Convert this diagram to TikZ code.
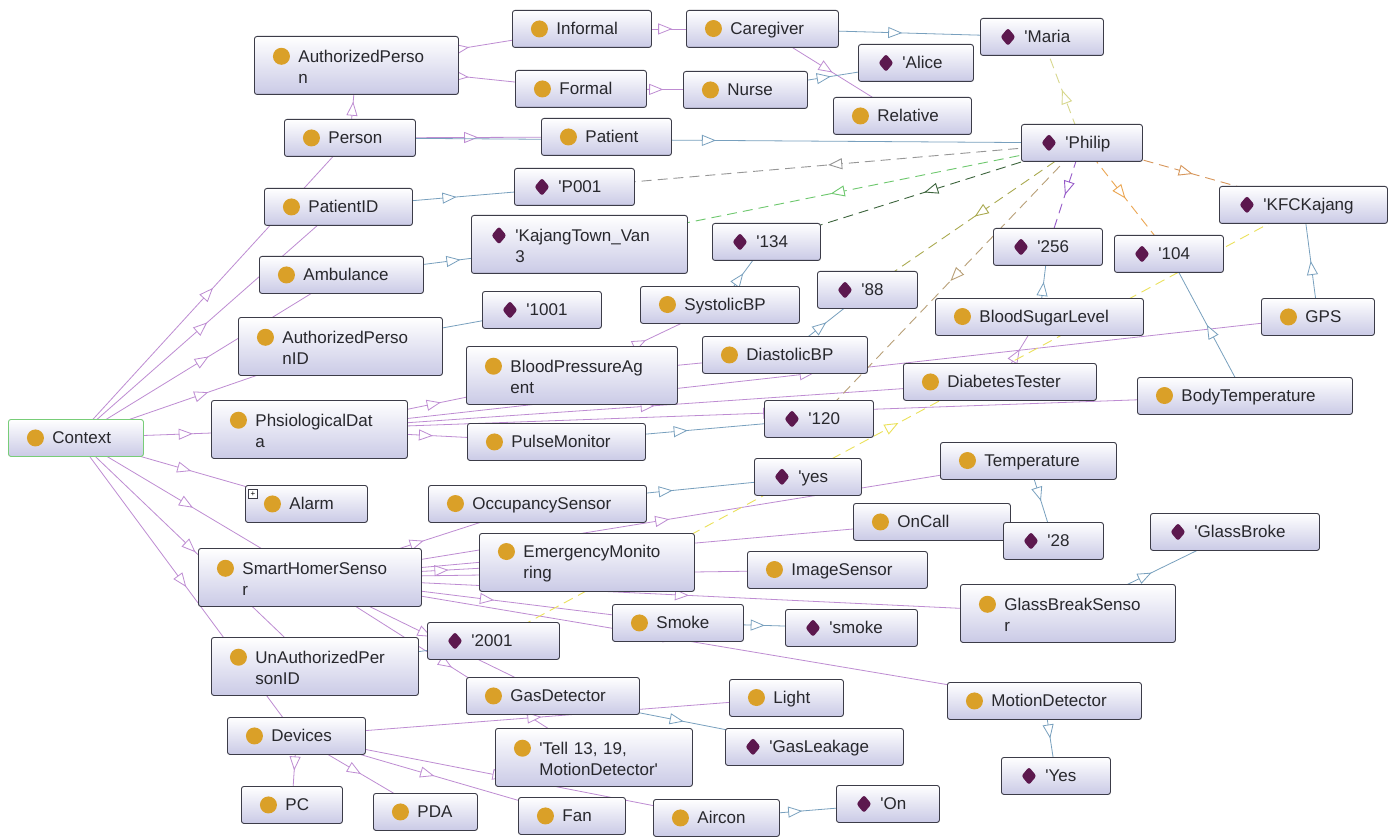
\documentclass[tikz,border=0pt]{standalone}
\usepackage{fontspec}
\setmainfont{Liberation Sans}
\usetikzlibrary{arrows.meta,decorations.markings}
\definecolor{boxline}{RGB}{60,60,72}
\definecolor{boxbot}{RGB}{202,202,230}
\definecolor{boxtext}{RGB}{40,40,45}
\definecolor{ctxline}{RGB}{120,205,120}
\definecolor{clsdot}{RGB}{218,160,40}
\definecolor{inddot}{RGB}{92,24,78}
\definecolor{subc}{RGB}{190,140,210}
\definecolor{indc}{RGB}{120,160,190}
\definecolor{relgrey}{RGB}{150,150,150}
\definecolor{relgreen}{RGB}{110,200,110}
\definecolor{reldkgreen}{RGB}{60,100,60}
\definecolor{relolive}{RGB}{170,170,80}
\definecolor{reltan}{RGB}{185,160,120}
\definecolor{relviolet}{RGB}{150,90,200}
\definecolor{relorange}{RGB}{235,165,80}
\definecolor{relbrown}{RGB}{215,150,90}
\definecolor{relpale}{RGB}{215,215,140}
\definecolor{relyellow}{RGB}{235,225,90}
\pgfdeclarelayer{bg}
\pgfsetlayers{bg,main}
\newcommand\apos{\textquotesingle}
\newcommand\kls{\hspace*{18.5pt}\tikz[baseline=-5.8pt]\fill[clsdot] (0,0) circle (8.5pt);\hspace{8.5pt}}
\newcommand\indv{\hspace*{20pt}\tikz[baseline=-5.8pt]\fill[inddot] (0,9pt) -- (7.5pt,0) -- (0,-9pt) -- (-7.5pt,0) -- cycle;\hspace{9pt}}
\begin{document}
\begin{tikzpicture}[x=1pt,y=-1pt,
  box/.style={draw=boxline, line width=0.9pt, rounded corners=2.5pt, top color=white, bottom color=boxbot,
    anchor=north west, inner xsep=0pt, inner ysep=0pt, minimum height=37pt, text width=#1pt, align=left,
    text=boxtext, font=\fontsize{17}{21}\selectfont},
  tall/.style={minimum height=58pt},
  tri/.tip={Triangle[open,fill=white,length=14pt,width=11pt]},
  mid/.style={postaction={decorate}, decoration={markings, mark=at position 0.5 with {\arrow{tri}}}},
  sub/.style={subc, line width=0.8pt, mid},
  has/.style={indc, line width=0.8pt, mid},
  rel/.style={#1, line width=0.9pt, dash pattern=on 10pt off 6pt, mid}]
\useasboundingbox (0,0) rectangle (1398,837);
% classes on the left
\node[box=135, draw=ctxline] (ctx) at (8,419) {\kls Context};
\node[box=204, tall] (authp) at (254,36) {\kls AuthorizedPerso\\\hspace*{44pt}n};
\node[box=131] (person) at (284,119) {\kls Person};
\node[box=148] (patid) at (264,188) {\kls PatientID};
\node[box=164] (amb) at (259,256) {\kls Ambulance};
\node[box=204, tall] (authid) at (238,317) {\kls AuthorizedPerso\\\hspace*{44pt}nID};
\node[box=196, tall] (phys) at (211,400) {\kls PhsiologicalDat\\\hspace*{44pt}a};
\node[box=122] (alarm) at (245,485) {\kls Alarm};
\node[draw=boxline, fill=white, minimum size=9pt, inner sep=0pt, font=\fontsize{8}{8}\selectfont] (alarmplus) at (253,494) {+};
\node[box=223, tall] (shs) at (198,548) {\kls SmartHomerSenso\\\hspace*{44pt}r};
\node[box=207, tall] (unauth) at (211,637) {\kls UnAuthorizedPer\\\hspace*{44pt}sonID};
\node[box=138] (dev) at (227,717) {\kls Devices};
\node[box=101] (pc) at (241,786) {\kls PC};
\node[box=104] (pda) at (373,793) {\kls PDA};
% persons
\node[box=139] (informal) at (512,10) {\kls Informal};
\node[box=152] (caregiver) at (686,10) {\kls Caregiver};
\node[box=131] (formal) at (515,70) {\kls Formal};
\node[box=124] (nurse) at (683,71) {\kls Nurse};
\node[box=115] (alice) at (858,44) {\indv\apos Alice};
\node[box=138] (relative) at (833,97) {\kls Relative};
\node[box=130] (patient) at (541,118) {\kls Patient};
\node[box=120] (p001) at (514,168) {\indv\apos P001};
\node[box=216, tall] (kajang) at (471,215) {\indv\apos KajangTown\_Van\\\hspace*{44pt}3};
\node[box=123] (maria) at (980,18) {\indv\apos Maria};
\node[box=121] (philip) at (1021,124) {\indv\apos Philip};
\node[box=168] (kfc) at (1219,186) {\indv\apos KFCKajang};
% physiological data
\node[box=108] (v134) at (712,223) {\indv\apos 134};
\node[box=109] (v256) at (993,228) {\indv\apos 256};
\node[box=109] (v104) at (1114,235) {\indv\apos 104};
\node[box=100] (v88) at (817,271) {\indv\apos 88};
\node[box=159] (systolic) at (640,286) {\kls SystolicBP};
\node[box=119] (v1001) at (482,291) {\indv\apos 1001};
\node[box=208] (bsl) at (935,298) {\kls BloodSugarLevel};
\node[box=113] (gps) at (1261,298) {\kls GPS};
\node[box=211, tall] (bpa) at (466,346) {\kls BloodPressureAg\\\hspace*{44pt}ent};
\node[box=165] (diastolic) at (702,336) {\kls DiastolicBP};
\node[box=193] (diab) at (903,363) {\kls DiabetesTester};
\node[box=215] (bodyt) at (1137,377) {\kls BodyTemperature};
\node[box=109] (v120) at (764,400) {\indv\apos 120};
\node[box=178] (pulse) at (467,423) {\kls PulseMonitor};
% smart home sensors
\node[box=107] (vyes) at (754,458) {\indv\apos yes};
\node[box=176] (temp) at (940,442) {\kls Temperature};
\node[box=218] (occ) at (428,485) {\kls OccupancySensor};
\node[box=157] (oncall) at (853,503) {\kls OnCall};
\node[box=169] (glassbroke) at (1150,513) {\indv\apos GlassBroke};
\node[box=100] (v28) at (1003,522) {\indv\apos 28};
\node[box=215, tall] (emerg) at (479,533) {\kls EmergencyMonito\\\hspace*{44pt}ring};
\node[box=180] (imgs) at (747,551) {\kls ImageSensor};
\node[box=215, tall] (glassbs) at (960,584) {\kls GlassBreakSenso\\\hspace*{44pt}r};
\node[box=131] (smoke) at (612,604) {\kls Smoke};
\node[box=132] (vsmoke) at (785,609) {\indv\apos smoke};
\node[box=132] (v2001) at (427,622) {\indv\apos 2001};
\node[box=173] (gasdet) at (466,677) {\kls GasDetector};
\node[box=114] (light) at (729,679) {\kls Light};
\node[box=194] (motion) at (947,682) {\kls MotionDetector};
\node[box=197, tall] (tell) at (495,728) {\kls\apos Tell 13, 19,\\\hspace*{44pt}MotionDetector\apos};
\node[box=178] (gasleak) at (725,728) {\indv\apos GasLeakage};
\node[box=109] (vyes2) at (1001,757) {\indv\apos Yes};
\node[box=103] (von) at (836,785) {\indv\apos On};
\node[box=107] (fan) at (518,797) {\kls Fan};
\node[box=126] (aircon) at (653,799) {\kls Aircon};
\begin{pgfonlayer}{bg}
\fill[white] (0,0) rectangle (1398,837);
% subclasses
\draw[sub] (ctx.center) -- (person.center);
\draw[sub] (ctx.center) -- (patid.center);
\draw[sub] (ctx.center) -- (amb.center);
\draw[sub] (ctx.center) -- (authid.center);
\draw[sub] (ctx.center) -- (phys.center);
\draw[sub] (ctx.center) -- (alarm.center);
\draw[sub] (ctx.center) -- (shs.center);
\draw[sub] (ctx.center) -- (unauth.center);
\draw[sub] (ctx.center) -- (dev.center);
\draw[sub] (person.center) -- (authp.center);
\draw[sub] (person.center) -- (patient.center);
\draw[sub] (authp.center) -- (informal.center);
\draw[sub] (authp.center) -- (formal.center);
\draw[sub] (informal.center) -- (caregiver.center);
\draw[sub] (formal.center) -- (nurse.center);
\draw[sub] (caregiver.center) -- (relative.center);
\draw[sub] (phys.center) -- (bpa.center);
\draw[sub] (phys.center) -- (pulse.center);
\draw[sub] (phys.center) -- (diab.center);
\draw[sub] (phys.center) -- (gps.center);
\draw[sub] (phys.center) -- (bodyt.center);
\draw[sub] (bpa.center) -- (systolic.center);
\draw[sub] (bpa.center) -- (diastolic.center);
\draw[sub] (diab.center) -- (bsl.center);
\draw[sub] (shs.center) -- (occ.center);
\draw[sub] (shs.center) -- (emerg.center);
\draw[sub] (shs.center) -- (temp.center);
\draw[sub] (shs.center) -- (oncall.center);
\draw[sub] (shs.center) -- (imgs.center);
\draw[sub] (shs.center) -- (glassbs.center);
\draw[sub] (shs.center) -- (smoke.center);
\draw[sub] (shs.center) -- (motion.center);
\draw[sub] (shs.center) -- (gasdet.center);
\draw[sub] (shs.center) -- (tell.center);
\draw[sub] (dev.center) -- (pc.center);
\draw[sub] (dev.center) -- (pda.center);
\draw[sub] (dev.center) -- (fan.center);
\draw[sub] (dev.center) -- (aircon.center);
\draw[sub] (dev.center) -- (light.center);
% individuals
\draw[has] (caregiver.center) -- (maria.center);
\draw[has] (nurse.center) -- (alice.center);
\draw[has] (person.center) -- (philip.center);
\draw[has] (patid.center) -- (p001.center);
\draw[has] (amb.center) -- (kajang.center);
\draw[has] (authid.center) -- (v1001.center);
\draw[has] (systolic.center) -- (v134.center);
\draw[has] (diastolic.center) -- (v88.center);
\draw[has] (bsl.center) -- (v256.center);
\draw[has] (bodyt.center) -- (v104.center);
\draw[has] (gps.center) -- (kfc.center);
\draw[has] (pulse.center) -- (v120.center);
\draw[has] (occ.center) -- (vyes.center);
\draw[has] (temp.center) -- (v28.center);
\draw[has] (glassbs.center) -- (glassbroke.center);
\draw[has] (smoke.center) -- (vsmoke.center);
\draw[has] (gasdet.center) -- (gasleak.center);
\draw[has] (aircon.center) -- (von.center);
\draw[has] (motion.center) -- (vyes2.center);
\draw[has] (unauth.center) -- (v2001.center);
% object properties
\draw[rel=relpale] (philip.center) -- (maria.center);
\draw[rel=relgrey] (philip.center) -- (p001.center);
\draw[rel=relgreen] (philip.center) -- (kajang.center);
\draw[rel=reldkgreen] (philip.center) -- (v134.center);
\draw[rel=relolive] (philip.center) -- (v88.center);
\draw[rel=reltan] (philip.center) -- (v120.center);
\draw[rel=relviolet] (philip.center) -- (v256.center);
\draw[rel=relorange] (philip.center) -- (v104.center);
\draw[rel=relbrown] (philip.center) -- (kfc.center);
\draw[rel=relyellow] (v2001.center) -- (kfc.center);
\end{pgfonlayer}
\end{tikzpicture}
\end{document}
